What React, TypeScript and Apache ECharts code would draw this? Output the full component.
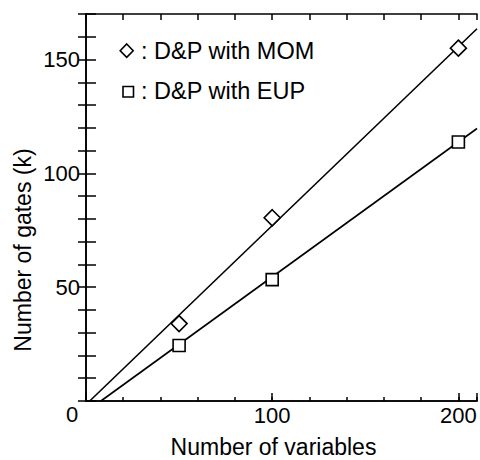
import React, { useEffect, useRef } from "react";
import * as echarts from "echarts";

// Measured points
const xVariables = [50, 100, 200];
const momGates = [34, 80.5, 155];
const eupGates = [24.4, 53.3, 113.8];

// Fitted lines (start on x-axis, end at right frame)
const momFitX = [2, 210];
const momFitY = [0, 163.5];
const eupFitX = [8, 210];
const eupFitY = [0, 119.7];

const xLabels = [100, 200];
const yLabels = [50, 100, 150];

const momName = ": D&P with MOM";
const eupName = ": D&P with EUP";

const FONT = "'Liberation Sans', Arial, Helvetica, sans-serif";

export default function App() {
  const ref = useRef<HTMLDivElement>(null);

  useEffect(() => {
    if (!ref.current) return;
    const chart = echarts.init(ref.current, undefined, { renderer: "svg" });

    const axisLine = { show: true, lineStyle: { color: "#000", width: 1.6 } };
    const grid = { left: 86, top: 14, width: 392, height: 387 };

    const option: any = {
      animation: false,
      backgroundColor: "#fff",
      grid,
      xAxis: [
        {
          type: "value",
          position: "bottom",
          min: 0,
          max: 210,
          interval: 100,
          axisLine,
          axisTick: { show: true, inside: true, length: 8, lineStyle: { color: "#000", width: 1.5 } },
          axisLabel: {
            show: true,
            margin: 3,
            fontSize: 22,
            fontFamily: FONT,
            color: "#000",
            formatter: (v: number) => (xLabels.includes(v) ? String(v) : ""),
          },
          splitLine: { show: false },
        },
        {
          type: "value",
          position: "bottom",
          min: 0,
          max: 210,
          interval: 20,
          axisLine,
          axisTick: { show: true, inside: true, length: 4, lineStyle: { color: "#000", width: 1.5 } },
          axisLabel: { show: false },
          splitLine: { show: false },
        },
        {
          type: "value",
          position: "top",
          min: 0,
          max: 210,
          interval: 20,
          axisLine,
          axisTick: { show: true, inside: true, length: 6, lineStyle: { color: "#000", width: 1.5 } },
          axisLabel: { show: false },
          splitLine: { show: false },
        },
      ],
      yAxis: [
        {
          type: "value",
          position: "left",
          min: 0,
          max: 170,
          interval: 10,
          axisLine,
          axisTick: { show: true, inside: true, length: 10, lineStyle: { color: "#000", width: 1.5 } },
          axisLabel: {
            show: true,
            margin: 6,
            fontSize: 22,
            fontFamily: FONT,
            color: "#000",
            formatter: (v: number) => (yLabels.includes(v) ? String(v) : ""),
          },
          splitLine: { show: false },
        },
        {
          type: "value",
          position: "right",
          min: 0,
          max: 170,
          interval: 10,
          axisLine,
          axisTick: { show: true, inside: true, length: 8, lineStyle: { color: "#000", width: 1.5 } },
          axisLabel: { show: false },
          splitLine: { show: false },
        },
      ],
      series: [
        {
          name: "momFit",
          type: "line",
          xAxisIndex: 0,
          yAxisIndex: 0,
          data: momFitX.map((x, i) => [x, momFitY[i]]),
          showSymbol: false,
          symbol: "none",
          clip: true,
          lineStyle: { color: "#000", width: 1.6 },
          z: 2,
        },
        {
          name: "eupFit",
          type: "line",
          xAxisIndex: 0,
          yAxisIndex: 0,
          data: eupFitX.map((x, i) => [x, eupFitY[i]]),
          showSymbol: false,
          symbol: "none",
          clip: true,
          lineStyle: { color: "#000", width: 1.6 },
          z: 2,
        },
        {
          name: momName,
          type: "scatter",
          xAxisIndex: 0,
          yAxisIndex: 0,
          data: xVariables.map((x, i) => [x, momGates[i]]),
          symbol: "diamond",
          symbolSize: 16,
          itemStyle: { color: "#fff", borderColor: "#000", borderWidth: 1.6, opacity: 1 },
          z: 5,
        },
        {
          name: eupName,
          type: "scatter",
          xAxisIndex: 0,
          yAxisIndex: 0,
          data: xVariables.map((x, i) => [x, eupGates[i]]),
          symbol: "rect",
          symbolSize: 12,
          itemStyle: { color: "#fff", borderColor: "#000", borderWidth: 1.6, opacity: 1 },
          z: 5,
        },
      ],
      graphic: [
        // legend
        {
          type: "polygon",
          shape: { points: [[126.7, 44], [133.2, 50.7], [126.7, 57.4], [120.2, 50.7]] },
          style: { fill: "#fff", stroke: "#000", lineWidth: 1.6 },
        },
        {
          type: "rect",
          shape: { x: 123, y: 86.5, width: 10.5, height: 10.5 },
          style: { fill: "#fff", stroke: "#000", lineWidth: 1.6 },
        },
        {
          type: "text",
          x: 141,
          y: 51,
          style: { text: momName, font: `23.5px ${FONT}`, fill: "#000", textAlign: "left", textVerticalAlign: "middle" },
        },
        {
          type: "text",
          x: 141,
          y: 91,
          style: { text: eupName, font: `23.5px ${FONT}`, fill: "#000", textAlign: "left", textVerticalAlign: "middle" },
        },
        // shared origin label
        {
          type: "text",
          x: 72,
          y: 414,
          style: { text: "0", font: `22px ${FONT}`, fill: "#000", textAlign: "center", textVerticalAlign: "middle" },
        },
        // axis titles
        {
          type: "text",
          x: 273.5,
          y: 447,
          style: { text: "Number of variables", font: `23px ${FONT}`, fill: "#000", textAlign: "center", textVerticalAlign: "middle" },
        },
        {
          type: "text",
          x: 23,
          y: 250,
          rotation: Math.PI / 2,
          style: { text: "Number of gates (k)", font: `23px ${FONT}`, fill: "#000", textAlign: "center", textVerticalAlign: "middle" },
        },
      ],
    };

    chart.setOption(option);
    return () => chart.dispose();
  }, []);

  return (
    <div
      ref={ref}
      style={{ position: "fixed", left: 0, top: 0, width: 480, height: 460, background: "#fff" }}
    />
  );
}
